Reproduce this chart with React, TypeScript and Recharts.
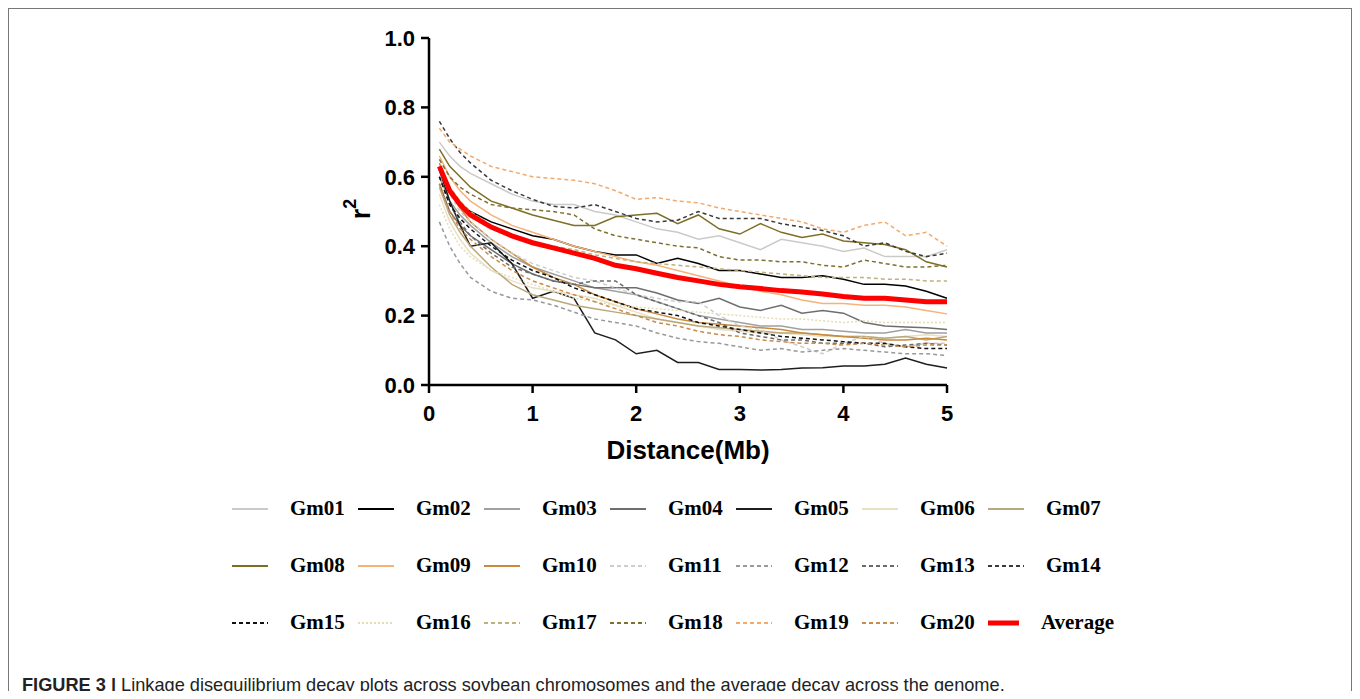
import React from "react";
import { LineChart, Line, XAxis, YAxis, Legend } from "recharts";

// distance (Mb) at which r2 was averaged
const distance = [0.1, 0.2, 0.3, 0.4, 0.6, 0.8, 1.0, 1.2, 1.4, 1.6, 1.8, 2.0, 2.2, 2.4, 2.6, 2.8, 3.0, 3.2, 3.4, 3.6, 3.8, 4.0, 4.2, 4.4, 4.6, 4.8, 5.0];

const gm01 = [0.70, 0.66, 0.63, 0.61, 0.58, 0.55, 0.53, 0.52, 0.52, 0.50, 0.49, 0.47, 0.45, 0.44, 0.42, 0.43, 0.41, 0.39, 0.42, 0.41, 0.40, 0.385, 0.395, 0.37, 0.37, 0.37, 0.39];
const gm02 = [0.62, 0.56, 0.52, 0.50, 0.47, 0.45, 0.43, 0.42, 0.40, 0.385, 0.375, 0.375, 0.35, 0.365, 0.35, 0.33, 0.33, 0.32, 0.31, 0.31, 0.315, 0.305, 0.29, 0.29, 0.285, 0.27, 0.25];
const gm03 = [0.60, 0.53, 0.49, 0.46, 0.41, 0.37, 0.34, 0.32, 0.30, 0.28, 0.27, 0.26, 0.24, 0.22, 0.20, 0.19, 0.18, 0.17, 0.17, 0.16, 0.16, 0.155, 0.15, 0.15, 0.16, 0.15, 0.15];
const gm04 = [0.58, 0.50, 0.46, 0.43, 0.39, 0.35, 0.32, 0.30, 0.29, 0.28, 0.28, 0.28, 0.265, 0.245, 0.235, 0.25, 0.225, 0.215, 0.23, 0.207, 0.215, 0.207, 0.18, 0.17, 0.167, 0.165, 0.16];
const gm05 = [0.62, 0.53, 0.46, 0.40, 0.41, 0.35, 0.25, 0.27, 0.25, 0.15, 0.13, 0.09, 0.10, 0.065, 0.065, 0.045, 0.045, 0.043, 0.045, 0.049, 0.05, 0.055, 0.055, 0.06, 0.078, 0.06, 0.049];
const gm06 = [0.55, 0.47, 0.42, 0.38, 0.33, 0.30, 0.28, 0.27, 0.26, 0.25, 0.23, 0.21, 0.19, 0.18, 0.17, 0.16, 0.155, 0.15, 0.15, 0.145, 0.14, 0.14, 0.14, 0.135, 0.14, 0.145, 0.14];
const gm07 = [0.57, 0.49, 0.44, 0.40, 0.34, 0.29, 0.26, 0.245, 0.23, 0.22, 0.21, 0.20, 0.19, 0.18, 0.17, 0.165, 0.16, 0.155, 0.15, 0.15, 0.145, 0.14, 0.14, 0.135, 0.14, 0.13, 0.14];
const gm08 = [0.68, 0.63, 0.60, 0.57, 0.53, 0.51, 0.49, 0.475, 0.46, 0.46, 0.485, 0.49, 0.495, 0.465, 0.49, 0.45, 0.435, 0.465, 0.44, 0.425, 0.435, 0.415, 0.41, 0.405, 0.39, 0.355, 0.34];
const gm09 = [0.66, 0.60, 0.56, 0.53, 0.49, 0.46, 0.44, 0.42, 0.40, 0.385, 0.37, 0.355, 0.345, 0.33, 0.315, 0.30, 0.285, 0.27, 0.26, 0.245, 0.235, 0.235, 0.23, 0.23, 0.225, 0.215, 0.205];
const gm10 = [0.64, 0.56, 0.51, 0.47, 0.42, 0.38, 0.34, 0.31, 0.29, 0.26, 0.24, 0.22, 0.205, 0.19, 0.18, 0.175, 0.17, 0.165, 0.16, 0.15, 0.145, 0.14, 0.135, 0.13, 0.13, 0.135, 0.13];
const gm11 = [0.62, 0.55, 0.50, 0.47, 0.42, 0.38, 0.35, 0.33, 0.31, 0.30, 0.28, 0.26, 0.25, 0.24, 0.24, 0.20, 0.17, 0.16, 0.13, 0.11, 0.09, 0.12, 0.14, 0.12, 0.11, 0.12, 0.12];
const gm12 = [0.47, 0.40, 0.35, 0.31, 0.27, 0.25, 0.245, 0.23, 0.21, 0.19, 0.18, 0.17, 0.15, 0.135, 0.125, 0.12, 0.11, 0.10, 0.105, 0.095, 0.10, 0.105, 0.10, 0.095, 0.09, 0.09, 0.085];
const gm13 = [0.60, 0.52, 0.47, 0.43, 0.38, 0.34, 0.32, 0.30, 0.29, 0.30, 0.30, 0.26, 0.24, 0.22, 0.20, 0.18, 0.15, 0.14, 0.13, 0.13, 0.12, 0.12, 0.12, 0.11, 0.115, 0.12, 0.115];
const gm14 = [0.76, 0.71, 0.67, 0.64, 0.59, 0.56, 0.535, 0.515, 0.51, 0.52, 0.50, 0.48, 0.47, 0.475, 0.50, 0.48, 0.48, 0.48, 0.465, 0.455, 0.445, 0.43, 0.40, 0.41, 0.385, 0.37, 0.38];
const gm15 = [0.60, 0.52, 0.48, 0.45, 0.40, 0.36, 0.33, 0.31, 0.28, 0.26, 0.24, 0.22, 0.21, 0.20, 0.18, 0.17, 0.16, 0.15, 0.14, 0.135, 0.13, 0.125, 0.12, 0.12, 0.11, 0.105, 0.105];
const gm16 = [0.52, 0.45, 0.40, 0.37, 0.33, 0.31, 0.29, 0.27, 0.25, 0.24, 0.23, 0.225, 0.22, 0.215, 0.21, 0.205, 0.20, 0.195, 0.19, 0.19, 0.185, 0.18, 0.185, 0.18, 0.18, 0.18, 0.18];
const gm17 = [0.63, 0.57, 0.53, 0.50, 0.46, 0.43, 0.41, 0.40, 0.39, 0.375, 0.365, 0.355, 0.35, 0.345, 0.34, 0.335, 0.33, 0.325, 0.32, 0.315, 0.31, 0.31, 0.31, 0.305, 0.305, 0.30, 0.30];
const gm18 = [0.65, 0.60, 0.57, 0.55, 0.52, 0.51, 0.505, 0.50, 0.49, 0.45, 0.43, 0.42, 0.41, 0.40, 0.395, 0.37, 0.36, 0.36, 0.355, 0.355, 0.345, 0.34, 0.36, 0.35, 0.34, 0.34, 0.345];
const gm19 = [0.74, 0.70, 0.68, 0.66, 0.63, 0.615, 0.60, 0.595, 0.59, 0.58, 0.56, 0.535, 0.54, 0.53, 0.525, 0.51, 0.50, 0.49, 0.48, 0.47, 0.45, 0.44, 0.46, 0.47, 0.43, 0.44, 0.40];
const gm20 = [0.58, 0.50, 0.45, 0.42, 0.37, 0.33, 0.30, 0.28, 0.26, 0.24, 0.22, 0.20, 0.18, 0.17, 0.155, 0.145, 0.14, 0.13, 0.125, 0.12, 0.12, 0.115, 0.12, 0.115, 0.11, 0.115, 0.115];
const average = [0.63, 0.56, 0.52, 0.49, 0.455, 0.43, 0.41, 0.395, 0.38, 0.365, 0.345, 0.335, 0.322, 0.31, 0.30, 0.29, 0.283, 0.278, 0.272, 0.268, 0.262, 0.255, 0.25, 0.25, 0.245, 0.24, 0.24];

const seriesNames = ["Gm01", "Gm02", "Gm03", "Gm04", "Gm05", "Gm06", "Gm07", "Gm08", "Gm09", "Gm10", "Gm11", "Gm12", "Gm13", "Gm14", "Gm15", "Gm16", "Gm17", "Gm18", "Gm19", "Gm20", "Average"];
const seriesValues = [gm01, gm02, gm03, gm04, gm05, gm06, gm07, gm08, gm09, gm10, gm11, gm12, gm13, gm14, gm15, gm16, gm17, gm18, gm19, gm20, average];

const xTicks = [0, 1, 2, 3, 4, 5];
const yTicks = [0, 0.2, 0.4, 0.6, 0.8, 1.0];

const data = distance.map((d, i) => {
  const row: Record<string, number> = { dist: d };
  seriesNames.forEach((name, s) => {
    row[name] = seriesValues[s][i];
  });
  return row;
});

const styles: Record<string, { color: string; dash?: string; width: number }> = {
  Gm01: { color: "#cacaca", width: 1.5 },
  Gm02: { color: "#000000", width: 1.5 },
  Gm03: { color: "#a0a0a0", width: 1.5 },
  Gm04: { color: "#6e6e6e", width: 1.5 },
  Gm05: { color: "#1e1e1e", width: 1.5 },
  Gm06: { color: "#e9dfc4", width: 1.5 },
  Gm07: { color: "#b9a97a", width: 1.5 },
  Gm08: { color: "#7d6e25", width: 1.5 },
  Gm09: { color: "#f5b27a", width: 1.5 },
  Gm10: { color: "#c98a3c", width: 1.5 },
  Gm11: { color: "#cdcdcd", dash: "4 3", width: 1.5 },
  Gm12: { color: "#999999", dash: "4 3", width: 1.5 },
  Gm13: { color: "#6a6a6a", dash: "4 3", width: 1.5 },
  Gm14: { color: "#3a3a3a", dash: "4 3", width: 1.5 },
  Gm15: { color: "#111111", dash: "4 3", width: 1.5 },
  Gm16: { color: "#e6dcb4", dash: "2 2", width: 1.5 },
  Gm17: { color: "#c0b07a", dash: "4 3", width: 1.5 },
  Gm18: { color: "#7f7030", dash: "4 3", width: 1.5 },
  Gm19: { color: "#f5a868", dash: "4 3", width: 1.5 },
  Gm20: { color: "#c98a4a", dash: "4 3", width: 1.5 },
  Average: { color: "#ff0000", width: 5 },
};

const axisFont = { fontFamily: "Arial, 'Liberation Sans', sans-serif", fontWeight: 700, fontSize: 22, fill: "#000" };

const renderLegend = (props: any) => {
  const payload: any[] = props.payload || [];
  const sorted = [...payload].sort(
    (a, b) => seriesNames.indexOf(a.dataKey) - seriesNames.indexOf(b.dataKey)
  );
  return (
    <div style={{ display: "grid", gridTemplateColumns: "repeat(7, 126px)", gridAutoRows: "57px" }}>
      {sorted.map((entry) => {
        const st = styles[entry.dataKey];
        return (
          <div key={entry.dataKey} style={{ display: "flex", alignItems: "center" }}>
            <svg width={36} height={10} style={{ display: "block" }}>
              <line x1={0} y1={5} x2={36} y2={5} stroke={st.color} strokeWidth={st.width === 5 ? 5 : 2} strokeDasharray={st.dash} />
            </svg>
            <span
              style={{
                marginLeft: 22,
                fontFamily: "'Times New Roman', 'Liberation Serif', serif",
                fontWeight: 700,
                fontSize: 21,
                color: "#000",
              }}
            >
              {entry.value}
            </span>
          </div>
        );
      })}
    </div>
  );
};

export default function App() {
  return (
    <div style={{ position: "relative", width: 1344, height: 683 }}>
      <div
        style={{
          position: "absolute",
          left: 0,
          top: 0,
          width: 1344,
          height: 691,
          border: "1px solid #777",
          borderBottom: "none",
          boxSizing: "border-box",
        }}
      />
      <LineChart
        width={1344}
        height={480}
        data={data}
        margin={{ top: 30, right: 405, left: 361, bottom: 43 }}
        style={{ position: "absolute", left: 0, top: 0 }}
      >
        <XAxis
          dataKey="dist"
          type="number"
          domain={[0, 5]}
          ticks={xTicks}
          interval={0}
          height={60}
          stroke="#000"
          axisLine={{ stroke: "#000", strokeWidth: 2.5 }}
          tickLine={{ stroke: "#000", strokeWidth: 2.5 }}
          tickSize={8}
          tickMargin={12}
          tick={axisFont}
          label={(p: any) => {
            const vb = p.viewBox || {};
            return (
              <text x={vb.x + vb.width / 2} y={451} textAnchor="middle" {...axisFont} fontSize={26}>
                Distance(Mb)
              </text>
            );
          }}
        />
        <YAxis
          type="number"
          domain={[0, 1]}
          ticks={yTicks}
          interval={0}
          width={60}
          stroke="#000"
          axisLine={{ stroke: "#000", strokeWidth: 2.5 }}
          tickLine={{ stroke: "#000", strokeWidth: 2.5 }}
          tickSize={8}
          tickMargin={6}
          tick={axisFont}
          tickFormatter={(v: number) => v.toFixed(1)}
          label={() => (
            <text
              x={362}
              y={201}
              textAnchor="middle"
              transform="rotate(-90 362 201)"
              fontFamily="Arial, 'Liberation Sans', sans-serif"
              fontWeight={700}
              fontSize={27}
              fill="#000"
            >
              r
              <tspan fontSize={18} dy={-14}>
                2
              </tspan>
            </text>
          )}
        />
        <Legend
          layout="horizontal"
          verticalAlign="middle"
          align="center"
          content={renderLegend}
          wrapperStyle={{ position: "absolute", left: 224, top: 472, width: 882 }}
        />
        {seriesNames.map((name) => {
          const st = styles[name];
          return (
            <Line
              key={name}
              type="linear"
              dataKey={name}
              name={name}
              stroke={st.color}
              strokeWidth={st.width}
              strokeDasharray={st.dash}
              dot={false}
              activeDot={false}
              isAnimationActive={false}
            />
          );
        })}
      </LineChart>
      <div
        style={{
          position: "absolute",
          left: 14,
          top: 667,
          lineHeight: "20px",
          fontFamily: "'Liberation Sans Narrow', 'Arial Narrow', Arial, sans-serif",
          fontSize: 18.2,
          color: "#222",
          whiteSpace: "nowrap",
        }}
      >
        <b>FIGURE 3 |</b> Linkage disequilibrium decay plots across soybean chromosomes and the average decay across the genome.
      </div>
    </div>
  );
}
